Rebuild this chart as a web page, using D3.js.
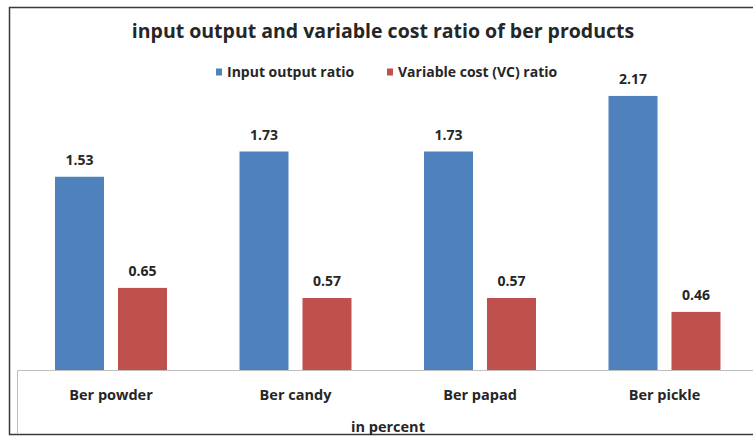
<!DOCTYPE html>
<html>
<head>
<meta charset="utf-8">
<script src="https://cdn.jsdelivr.net/npm/d3@7"></script>
<style>
  html, body { margin: 0; padding: 0; background: #fff; }
  svg { display: block; }
  text { font-family: "Open Sans", "Liberation Sans", sans-serif; fill: #262626; }
</style>
</head>
<body>
<svg id="chart" width="753" height="437"></svg>
<script>
const categories = ["Ber powder", "Ber candy", "Ber papad", "Ber pickle"];
const seriesNames = ["Input output ratio", "Variable cost (VC) ratio"];
const inputOutput = [1.53, 1.73, 1.73, 2.17];
const variableCost = [0.65, 0.57, 0.57, 0.46];
const seriesColors = ["#4F81BD", "#C0504D"];
const titleText = "input output and variable cost ratio of ber products";
const axisTitle = "in percent";

const rows = categories.map((c, i) => ({ cat: c, values: [inputOutput[i], variableCost[i]] }));

const svg = d3.select("#chart");
const W = 753, H = 437;

// chart frame (right edge runs off the canvas)
svg.append("path")
  .attr("d", `M${W + 5},7.5 H9.5 V434.5 H${W + 5}`)
  .attr("fill", "none").attr("stroke", "#3a3a3a").attr("stroke-width", 1.5);

const baseY = 370;
const x0 = d3.scaleBand().domain(categories).range([18.75, 756.75]).paddingInner(0.393).paddingOuter(0.1965);
const x = d3.scaleBand().domain([0, 1]).range([0, x0.bandwidth()]).paddingInner(0.222);
const y = d3.scaleLinear().domain([0, 2.5]).range([baseY, baseY - 2.5 * 126.3]);

// title
svg.append("text")
  .attr("x", 383).attr("y", 38)
  .attr("text-anchor", "middle")
  .attr("font-size", 19.5).attr("font-weight", "bold")
  .text(titleText);

// legend
const legendX = [216, 387];
seriesNames.forEach((name, i) => {
  const g = svg.append("g").attr("transform", `translate(${legendX[i]},72)`);
  g.append("rect").attr("x", 0).attr("y", -3.5).attr("width", 6).attr("height", 7).attr("fill", seriesColors[i]);
  g.append("text").attr("x", 11).attr("y", 5).attr("font-size", 14).attr("font-weight", "bold").text(name);
});

// bars
const groups = svg.append("g").selectAll("g").data(rows).join("g")
  .attr("transform", d => `translate(${x0(d.cat)},0)`);

groups.selectAll("rect").data(d => d.values.map((v, k) => ({ v, k }))).join("rect")
  .attr("x", d => x(d.k))
  .attr("y", d => y(d.v))
  .attr("width", x.bandwidth())
  .attr("height", d => y(0) - y(d.v))
  .attr("fill", d => seriesColors[d.k]);

groups.selectAll("text.val").data(d => d.values.map((v, k) => ({ v, k }))).join("text")
  .attr("class", "val")
  .attr("x", d => x(d.k) + x.bandwidth() / 2)
  .attr("y", d => y(d.v) - 12)
  .attr("text-anchor", "middle")
  .attr("font-size", 14).attr("font-weight", "bold")
  .text(d => d3.format(".2f")(d.v));

// category axis
const axis = svg.append("g").attr("transform", `translate(0,${baseY})`)
  .call(d3.axisBottom(x0).tickSize(0).tickPadding(0));
axis.select(".domain").remove();
axis.selectAll(".tick text")
  .attr("y", 30).attr("dy", 0)
  .attr("font-size", 14.5).attr("font-weight", "bold")
  .attr("font-family", "\"Open Sans\", \"Liberation Sans\", sans-serif")
  .attr("fill", "#262626");

svg.append("path")
  .attr("d", `M17.5,434 V${baseY + 0.5} H${W + 5}`)
  .attr("fill", "none").attr("stroke", "#bfbfbf").attr("stroke-width", 1);

svg.append("text")
  .attr("x", 388).attr("y", 432)
  .attr("text-anchor", "middle")
  .attr("font-size", 14.5).attr("font-weight", "bold")
  .text(axisTitle);
</script>
</body>
</html>
